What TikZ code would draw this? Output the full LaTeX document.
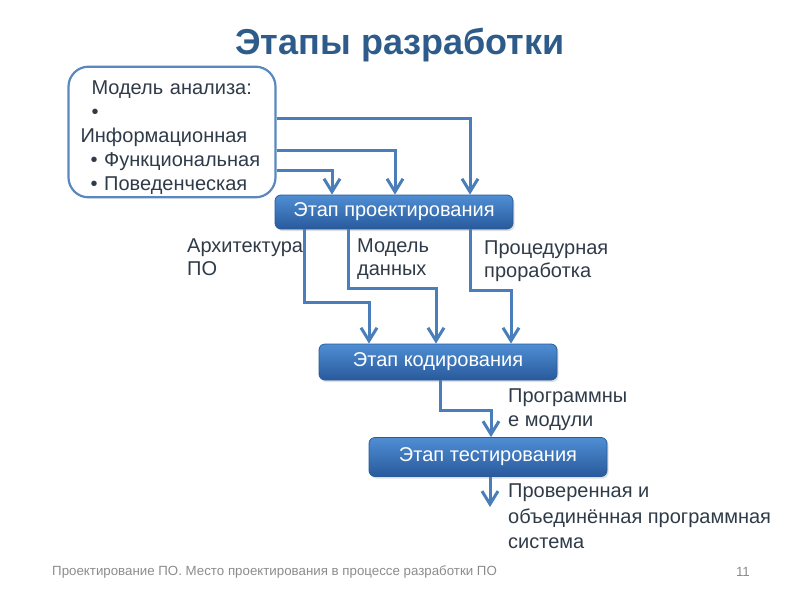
\documentclass[tikz,border=0pt]{standalone}
\usepackage{fontspec}
\setmainfont{Liberation Sans}
\usetikzlibrary{arrows.meta, positioning, shadows}
\definecolor{titleblue}{HTML}{2E5C8A}
\definecolor{linkblue}{HTML}{4A7EBB}
\definecolor{framblue}{HTML}{5A88BE}
\definecolor{stagetop}{HTML}{4F8ED3}
\definecolor{stagebot}{HTML}{285A9C}
\definecolor{txt}{HTML}{2F3B48}
\definecolor{footgray}{HTML}{8C8C8C}

\begin{document}
\begin{tikzpicture}[
  x=1pt, y=-1pt,
  stage/.style={rectangle, rounded corners=6pt, draw=stagebot, line width=0.8pt,
    top color=stagetop, bottom color=stagebot, text=white,
    drop shadow={opacity=0.25, shadow xshift=1.5pt, shadow yshift=-2pt},
    minimum width=238pt, minimum height=36pt, font=\fontsize{20}{23}\selectfont},
  anbox/.style={rectangle, rounded corners=20pt, draw=framblue, line width=2.2pt, fill=white,
    text width=183pt, inner xsep=12pt, minimum height=130pt, align=left, text=txt,
    font=\fontsize{20}{24}\selectfont},
  lbl/.style={anchor=north west, inner sep=0pt, align=left, text=txt,
    font=\fontsize{20}{23}\selectfont},
  arrow/.style={-{Straight Barb[length=13pt,width=16pt]}, line width=3pt, color=linkblue}
]
  \useasboundingbox (0,0) rectangle (800,600);

  \node[anchor=base, font=\fontsize{36}{40}\selectfont\bfseries, text=titleblue] (title) at (400,54) {Этапы разработки};

  \node[anbox] (analysis) at (172,132) {\rule{0pt}{24pt}\hspace*{11pt}Модель анализа:\\
    \hspace*{11pt}•\\
    Информационная\\
    \hspace*{10pt}• Функциональная\\
    \hspace*{10pt}• Поведенческая};

  \node[stage, minimum height=34pt] (design) at (394,212) {Этап проектирования};
  \node[stage] (coding) at (438,362) {Этап кодирования};
  \node[stage, minimum height=39pt] (testing) at (488,457) {Этап тестирования};

  % analysis model -> design
  \draw[arrow] (analysis.east |- 0,118) -| (design.north -| 470,0);
  \draw[arrow] (analysis.east |- 0,150) -| (design.north -| 395,0);
  \draw[arrow] (analysis.east |- 0,170) -| (design.north -| 332,0);

  % design -> coding
  \draw[arrow] (design.south -| 304,0) |- (369,302) -- (coding.north -| 369,0);
  \draw[arrow] (design.south -| 348,0) |- (436,288) -- (coding.north -| 436,0);
  \draw[arrow] (design.south -| 470,0) |- (511,290) -- (coding.north -| 511,0);

  % coding -> testing -> result
  \draw[arrow] (coding.south -| 440,0) |- (491,410) -- (testing.north -| 491,0);
  \coordinate (result) at (490,507);
  \draw[arrow] (testing.south -| 490,0) -- (result);

  \node[lbl] (arch) at (187,239) {Архитектура\\ПО};
  \node[lbl] (datamodel) at (357,239) {Модель\\данных};
  \node[lbl] (proc) at (484,241) {Процедурная\\проработка};
  \node[lbl, font=\fontsize{20}{24}\selectfont] (modules) at (508,389) {Программны\\е модули};
  \node[lbl, font=\fontsize{20}{25.5}\selectfont] (system) at (508,484)
    {Проверенная и\\объединённая программная\\система};

  \node[anchor=west, inner sep=0pt, text=footgray, font=\fontsize{13.3}{15}\selectfont] (foot) at (52,572)
    {Проектирование ПО. Место проектирования в процессе разработки ПО};
  \node[anchor=east, inner sep=0pt, text=footgray, font=\fontsize{13.3}{15}\selectfont] (page) at (750,572) {11};
\end{tikzpicture}
\end{document}
